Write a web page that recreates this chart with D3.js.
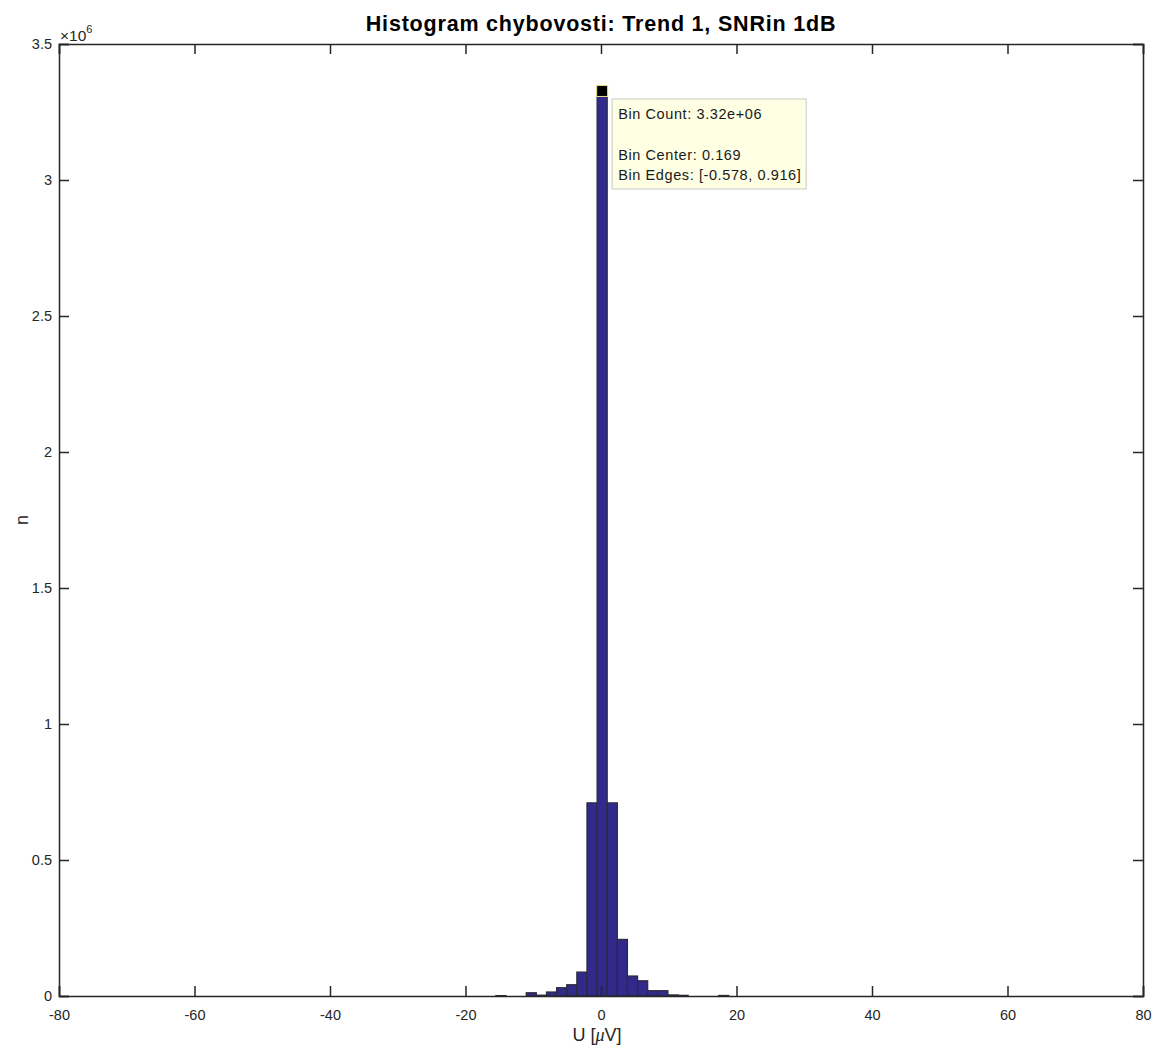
<!DOCTYPE html>
<html>
<head>
<meta charset="utf-8">
<script src="https://cdn.jsdelivr.net/npm/d3@7"></script>
<style>
  body { margin: 0; background: #fff; }
  svg { display: block; font-family: "Liberation Sans", Arial, Helvetica, sans-serif; }
</style>
</head>
<body>
<svg id="chart" width="1153" height="1046"></svg>
<script>
// ---- data ----
const binLeftEdges = [-15.518, -11.036, -9.542, -8.048, -6.554, -5.060, -3.566, -2.072, -0.578, 0.916, 2.410, 3.904, 5.398, 6.892, 8.386, 9.880, 11.374, 17.350];
const binCounts    = [1500, 12000, 3000, 14700, 30500, 41500, 88000, 710000, 3320000, 710000, 208000, 73500, 56000, 19500, 19500, 4000, 2500, 2000];
const binWidth = 1.494;
const xTicks = [-80, -60, -40, -20, 0, 20, 40, 60, 80];
const yTicks = [0, 0.5e6, 1e6, 1.5e6, 2e6, 2.5e6, 3e6, 3.5e6];
const tipBin = { center: 0.169, count: 3320000 };
const tipLines = ["Bin Count: 3.32e+06", "", "Bin Center: 0.169", "Bin Edges: [-0.578, 0.916]"];
const titleText = "Histogram chybovosti: Trend 1, SNRin 1dB";

// ---- layout ----
const L = 59, R = 1143, T = 44, B = 996;
const svg = d3.select("#chart");
const x = d3.scaleLinear().domain([-80, 80]).range([L, R]);
const y = d3.scaleLinear().domain([0, 3.5e6]).range([B, T]);
const axisColor = "#262626";
const tickLen = 10;
const tickFont = "14.5px";

// bars
svg.append("g").selectAll("rect")
  .data(binLeftEdges.map((e, i) => ({ lo: e, hi: e + binWidth, n: binCounts[i] })))
  .join("rect")
  .attr("x", d => x(d.lo))
  .attr("width", d => x(d.hi) - x(d.lo))
  .attr("y", d => y(d.n))
  .attr("height", d => y(0) - y(d.n))
  .attr("fill", "#312a8a")
  .attr("stroke", "#2b2b3a")
  .attr("stroke-width", 1.2);

// axes (MATLAB box style, ticks inside)
const fmtY = v => { const s = v / 1e6; return s === 0 ? "0" : String(s); };
const fmtX = v => String(v);
const gx = svg.append("g").attr("transform", `translate(0,${B})`)
  .call(d3.axisBottom(x).tickValues(xTicks).tickSize(-tickLen).tickPadding(14).tickFormat(fmtX));
const gxt = svg.append("g").attr("transform", `translate(0,${T})`)
  .call(d3.axisTop(x).tickValues(xTicks).tickSize(-tickLen).tickFormat(""));
const gy = svg.append("g").attr("transform", `translate(${L},0)`)
  .call(d3.axisLeft(y).tickValues(yTicks).tickSize(-tickLen).tickPadding(7).tickFormat(fmtY));
const gyr = svg.append("g").attr("transform", `translate(${R},0)`)
  .call(d3.axisRight(y).tickValues(yTicks).tickSize(-tickLen).tickFormat(""));
[gx, gxt, gy, gyr].forEach(g => {
  g.select(".domain").attr("stroke", axisColor).attr("stroke-width", 1.5);
  g.selectAll(".tick line").attr("stroke", axisColor).attr("stroke-width", 1.5);
  g.selectAll(".tick text").attr("fill", axisColor).style("font-size", tickFont)
   .style("font-family", "'Liberation Sans', Arial, sans-serif");
});
gx.selectAll(".tick text").attr("dy", "0.71em");

// exponent label
const ex = svg.append("text").attr("x", L + 1).attr("y", T - 3).attr("fill", axisColor)
  .style("font-size", "15.5px");
ex.append("tspan").text("\u00d710");
ex.append("tspan").attr("dy", -8).style("font-size", "11px").text("6");

// title
svg.append("text").attr("x", 601).attr("y", 31).attr("text-anchor", "middle")
  .attr("fill", "#000").style("font-size", "21.5px").style("font-weight", "bold")
  .style("letter-spacing", "0.8px").text(titleText);

// axis labels
const xl = svg.append("text").attr("x", 597).attr("y", 1041).attr("text-anchor", "middle")
  .attr("fill", axisColor).style("font-size", "18px");
xl.append("tspan").text("U [");
xl.append("tspan").style("font-style", "italic").style("font-family", "'Liberation Serif', 'Times New Roman', serif").text("\u03bc");
xl.append("tspan").text("V]");
svg.append("text").attr("transform", `translate(28,${(T + B) / 2}) rotate(-90)`)
  .attr("text-anchor", "middle").attr("fill", axisColor).style("font-size", "18px").text("n");

// data tip
const mx = x(tipBin.center), my = y(tipBin.count);
svg.append("rect").attr("x", mx - 5.5).attr("y", my - 7.5).attr("width", 11).attr("height", 11)
  .attr("fill", "#000").attr("stroke", "#f0e08a").attr("stroke-width", 1);
const bx = mx + 10, by = my + 6;
svg.append("rect").attr("x", bx).attr("y", by).attr("width", 194).attr("height", 90)
  .attr("fill", "#ffffe4").attr("stroke", "#c8c8c8").attr("stroke-width", 1);
svg.append("g").selectAll("text").data(tipLines).join("text")
  .attr("x", bx + 6).attr("y", (d, i) => by + 20 + i * 20.5)
  .attr("fill", "#1a1a1a").style("font-size", "14.5px").style("letter-spacing", "0.6px").text(d => d);
</script>
</body>
</html>
